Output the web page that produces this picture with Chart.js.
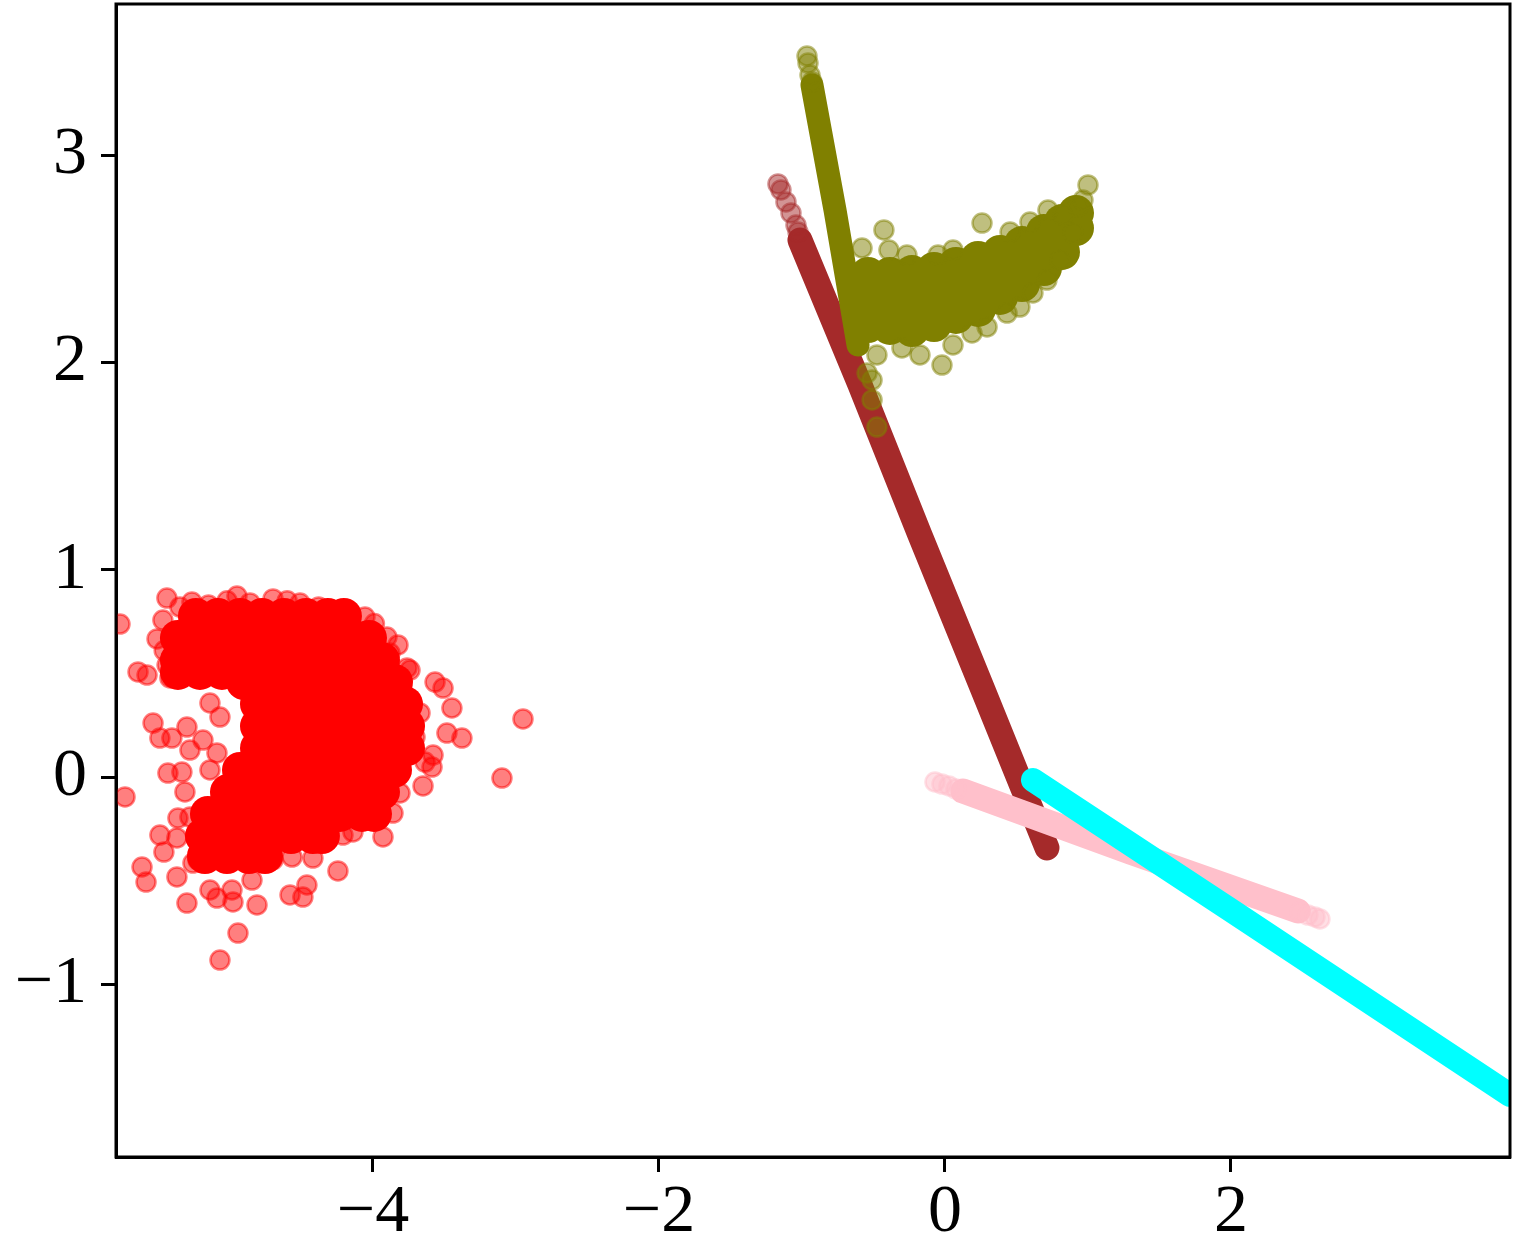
<!DOCTYPE html>
<html>
<head>
<meta charset="utf-8">
<script src="https://cdn.jsdelivr.net/npm/chart.js@4/dist/chart.umd.min.js"></script>
<style>
  html, body { margin: 0; padding: 0; background: #fff; }
  #wrap { width: 1514px; height: 1249px; position: relative; }
</style>
</head>
<body>
<div id="wrap"><canvas id="chart"></canvas></div>
<script>
// axis ticks
const xTicks = [-4, -2, 0, 2];
const yTicks = [-1, 0, 1, 2, 3];

// red cluster: the dense middle (row by row), then the loose points round its edge
const redCore = [
  [-5.238, 0.777], [-5.084, 0.777], [-4.930, 0.777], [-4.776, 0.777], [-4.622, 0.777], [-4.469, 0.777], [-4.315, 0.777], [-4.203, 0.777],
  [-5.364, 0.671], [-5.210, 0.671], [-5.056, 0.671], [-4.902, 0.671], [-4.748, 0.671], [-4.594, 0.671], [-4.441, 0.671], [-4.287, 0.671], [-4.133, 0.671], [-4.028, 0.671],
  [-5.364, 0.564], [-5.210, 0.564], [-5.056, 0.564], [-4.902, 0.564], [-4.748, 0.564], [-4.594, 0.564], [-4.441, 0.564], [-4.287, 0.564], [-4.133, 0.564], [-3.979, 0.564], [-3.937, 0.564],
  [-5.364, 0.507], [-5.210, 0.507], [-5.056, 0.507],
  [-4.902, 0.458], [-4.748, 0.458], [-4.594, 0.458], [-4.441, 0.458], [-4.287, 0.458], [-4.133, 0.458], [-3.979, 0.458], [-3.846, 0.458],
  [-4.804, 0.352], [-4.650, 0.352], [-4.497, 0.352], [-4.343, 0.352], [-4.189, 0.352], [-4.035, 0.352], [-3.881, 0.352], [-3.776, 0.352],
  [-4.804, 0.246], [-4.650, 0.246], [-4.497, 0.246], [-4.343, 0.246], [-4.189, 0.246], [-4.035, 0.246], [-3.881, 0.246], [-3.762, 0.246],
  [-4.804, 0.140], [-4.650, 0.140], [-4.497, 0.140], [-4.343, 0.140], [-4.189, 0.140], [-4.035, 0.140], [-3.881, 0.140], [-3.762, 0.140],
  [-4.930, 0.034], [-4.776, 0.034], [-4.622, 0.034], [-4.469, 0.034], [-4.315, 0.034], [-4.161, 0.034], [-4.007, 0.034], [-3.853, 0.034],
  [-5.014, -0.072], [-4.860, -0.072], [-4.706, -0.072], [-4.552, -0.072], [-4.399, -0.072], [-4.245, -0.072], [-4.091, -0.072], [-3.937, -0.072],
  [-5.154, -0.178], [-5.000, -0.178], [-4.846, -0.178], [-4.692, -0.178], [-4.538, -0.178], [-4.385, -0.178], [-4.231, -0.178], [-4.077, -0.178], [-3.993, -0.178],
  [-5.189, -0.285], [-5.035, -0.285], [-4.881, -0.285], [-4.727, -0.285], [-4.573, -0.285], [-4.420, -0.285], [-4.357, -0.285],
  [-5.175, -0.381], [-5.021, -0.381], [-4.867, -0.381], [-4.755, -0.381]
];
const redEdge = [
  [-5.769, 0.738], [-5.441, 0.863], [-5.266, 0.844], [-4.951, 0.873], [-4.699, 0.859], [-4.510, 0.839],
  [-4.322, 0.791], [-4.056, 0.772], [-3.902, 0.675], [-3.881, 0.598], [-5.469, 0.757], [-5.510, 0.666],
  [-5.643, 0.507], [-5.580, 0.492], [-5.420, 0.478], [-5.538, 0.260], [-5.490, 0.188], [-5.406, 0.188],
  [-5.301, 0.241], [-5.280, 0.130], [-5.140, 0.357], [-5.070, 0.289], [-5.189, 0.178], [-5.091, 0.116],
  [-5.434, 0.019], [-5.336, 0.024], [-5.140, 0.034], [-5.734, -0.096], [-5.315, -0.072], [-5.364, -0.198],
  [-5.280, -0.193], [-5.490, -0.280], [-5.462, -0.362], [-5.371, -0.294], [-5.615, -0.434], [-5.587, -0.507],
  [-5.371, -0.482], [-5.301, -0.608], [-5.140, -0.545], [-5.091, -0.584], [-4.986, -0.545], [-4.979, -0.603],
  [-4.846, -0.497], [-4.811, -0.617], [-4.944, -0.753], [-5.070, -0.883], [-4.580, -0.569], [-4.490, -0.579],
  [-4.462, -0.521], [-4.245, -0.453], [-3.930, -0.289], [-4.420, -0.391], [-4.566, -0.386], [-4.699, -0.400],
  [-3.860, -0.174], [-4.140, -0.265], [-4.210, -0.280], [-5.224, -0.400], [-5.259, -0.415], [-3.762, 0.526],
  [-3.566, 0.458], [-3.510, 0.429], [-3.448, 0.333], [-3.483, 0.212], [-3.378, 0.188], [-2.951, 0.280],
  [-3.098, -0.005], [-3.580, 0.106], [-3.636, 0.072], [-3.587, 0.048], [-3.650, -0.043], [-3.671, 0.309],
  [-3.706, 0.193], [-3.811, -0.077], [-3.741, 0.516], [-3.825, 0.637], [-5.350, 0.820], [-5.150, 0.830],
  [-5.020, 0.850], [-4.860, 0.840], [-4.600, 0.850], [-4.380, 0.820], [-4.180, 0.760], [-3.990, 0.740],
  [-5.460, 0.610], [-5.440, 0.540]
];

// brown streak
const brownLine = [[-1.014, 2.590], [-0.594, 1.891], [-0.175, 1.167], [0.266, 0.420], [0.713, -0.342]];
const brownEnd = [[-1.168, 2.861], [-1.147, 2.832], [-1.112, 2.774], [-1.077, 2.721], [-1.042, 2.663], [-1.028, 2.629]];

// olive: steep streak plus curved band (band listed column by column)
const oliveLine = [[-0.930, 3.338], [-0.769, 2.735], [-0.608, 2.084]];
const oliveCore = [
  [-0.538, 2.422], [-0.538, 2.301], [-0.538, 2.180],
  [-0.385, 2.422], [-0.385, 2.296], [-0.385, 2.171],
  [-0.231, 2.431], [-0.231, 2.296], [-0.231, 2.161],
  [-0.077, 2.446], [-0.077, 2.316], [-0.077, 2.185],
  [0.077, 2.470], [0.077, 2.349], [0.077, 2.224],
  [0.231, 2.499], [0.231, 2.378], [0.231, 2.258],
  [0.385, 2.528], [0.385, 2.422], [0.385, 2.316],
  [0.538, 2.571], [0.538, 2.475], [0.538, 2.378],
  [0.692, 2.629], [0.692, 2.542], [0.692, 2.455],
  [0.818, 2.677], [0.818, 2.605], [0.818, 2.533],
  [0.916, 2.721], [0.916, 2.648]
];
const oliveEdge = [
  [-0.965, 3.478], [-0.958, 3.444], [-0.944, 3.386], [-0.930, 3.353],
  [-0.427, 2.639], [0.259, 2.672], [-0.580, 2.552], [-0.392, 2.542], [-0.266, 2.518], [-0.049, 2.518],
  [0.056, 2.542], [0.720, 2.735], [1.000, 2.856], [0.965, 2.783], [0.930, 2.750], [0.895, 2.624],
  [0.804, 2.494], [0.713, 2.397], [0.615, 2.335], [0.524, 2.267], [0.434, 2.238], [0.294, 2.171],
  [0.189, 2.142], [0.056, 2.084], [-0.021, 1.987], [-0.175, 2.036], [-0.301, 2.070], [-0.476, 2.036],
  [-0.545, 1.949], [-0.510, 1.915], [-0.510, 1.819], [-0.476, 1.688], [0.455, 2.629], [0.594, 2.677], [0.825, 2.711]
];

// pink streak
const pinkLine = [[0.126, -0.068], [1.294, -0.362], [2.469, -0.646]];
const pinkEnd = [[-0.070, -0.024], [-0.021, -0.034], [0.028, -0.043], [0.077, -0.058],
  [2.483, -0.651], [2.538, -0.666], [2.587, -0.675], [2.622, -0.685]];

// cyan streak (runs off the right edge)
const cyanLine = [[0.615, -0.014], [1.986, -0.637], [3.951, -1.534], [4.580, -1.823]];

const pts = (arr) => arr.map(([x, y]) => ({ x, y }));

function core(data, color, order) {
  return { data: pts(data), backgroundColor: color, borderWidth: 0, pointRadius: 18, order, clip: 0 };
}
function loose(data, rgb, order) {
  return {
    data: pts(data),
    backgroundColor: `rgba(${rgb},0.5)`,
    borderColor: `rgba(${rgb},0.5)`,
    borderWidth: 2.5,
    pointRadius: 9.5,
    order,
    clip: 0,
  };
}
function streak(data, color, width, order) {
  return {
    data: pts(data),
    showLine: true,
    borderColor: color,
    borderWidth: width,
    borderCapStyle: "round",
    borderJoinStyle: "round",
    pointRadius: 0,
    order,
    clip: 0,
  };
}

const frame = {
  id: "frame",
  afterDatasetsDraw(chart) {
    const { ctx, chartArea: a } = chart;
    ctx.save();
    ctx.strokeStyle = "#000";
    ctx.lineWidth = 3;
    ctx.strokeRect(a.left, a.top, a.right - a.left, a.bottom - a.top);
    ctx.restore();
  },
};

const tickFont = { family: "'Liberation Serif', serif", size: 68 };
const minus = (v) => (v < 0 ? "\u2212" + Math.abs(v) : String(v));
const noPad = (s) => { s.paddingTop = 0; s.paddingBottom = 0; s.paddingLeft = 0; s.paddingRight = 0; };

new Chart(document.getElementById("chart"), {
  type: "scatter",
  data: {
    datasets: [
      streak(cyanLine, "#00ffff", 24, 1),
      loose(pinkEnd, "255,192,203", 2),
      streak(pinkLine, "#ffc0cb", 25, 3),
      loose(oliveEdge, "128,128,0", 4),
      core(oliveCore, "#808000", 5),
      streak(oliveLine, "#808000", 23, 6),
      loose(brownEnd, "165,42,42", 7),
      streak(brownLine, "#a52a2a", 25, 8),
      loose(redEdge, "255,0,0", 9),
      core(redCore, "#ff0000", 10),
    ],
  },
  options: {
    responsive: true,
    maintainAspectRatio: false,
    animation: false,
    events: [],
    layout: { autoPadding: false, padding: { top: 4, right: 4, left: 0, bottom: 0 } },
    plugins: { legend: { display: false }, tooltip: { enabled: false } },
    scales: {
      x: {
        min: -5.797,
        max: 3.951,
        afterBuildTicks: (s) => { s.ticks = xTicks.map((v) => ({ value: v })); },
        afterFit: (s) => { s.height = 92; noPad(s); },
        grid: { drawOnChartArea: false, tickLength: 15, tickWidth: 3, tickColor: "#000" },
        border: { display: true, color: "#000", width: 3 },
        ticks: { color: "#000", font: tickFont, padding: 0, maxRotation: 0, callback: minus },
      },
      y: {
        min: -1.833,
        max: 3.729,
        afterBuildTicks: (s) => { s.ticks = yTicks.map((v) => ({ value: v })); },
        afterFit: (s) => { s.width = 116; noPad(s); },
        grid: { drawOnChartArea: false, tickLength: 15, tickWidth: 3, tickColor: "#000" },
        border: { display: true, color: "#000", width: 3 },
        ticks: { color: "#000", font: tickFont, padding: 14, callback: minus },
      },
    },
  },
  plugins: [frame],
});
</script>
</body>
</html>
